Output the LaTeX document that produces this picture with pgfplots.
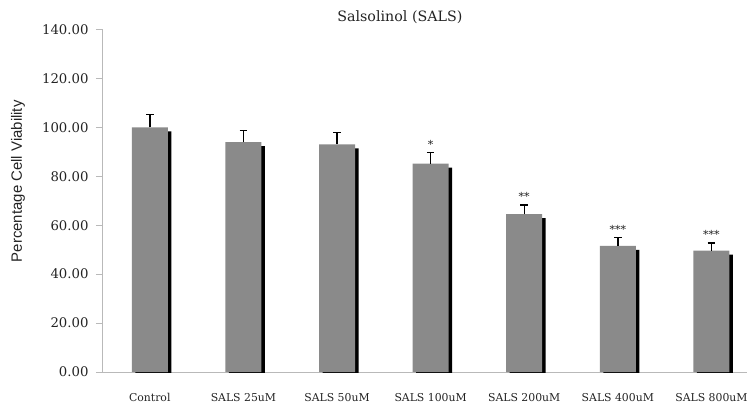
\documentclass[border=0pt]{standalone}
\usepackage{pgfplots}
\pgfplotsset{compat=1.18}
\usepackage{pgfplotstable}
\usepackage{fontspec}
\setmainfont{DejaVu Serif}
\newfontfamily\labelfont{Liberation Sans}
\definecolor{bargray}{RGB}{138,138,138}
\definecolor{axgray}{RGB}{185,185,185}
\definecolor{txt}{RGB}{35,35,35}

\pgfplotstableread{
x val err
0 100.0 5.2
1 94.0 4.8
2 93.0 5.0
3 85.2 4.5
4 64.5 3.8
5 51.6 3.3
6 49.6 3.2
}\datatable

\begin{document}
\begin{tikzpicture}
\useasboundingbox (-103bp,-37bp) rectangle (644bp,372bp);
\begin{axis}[
  scale only axis,
  width=644bp, height=342.5bp,
  xmin=-0.5, xmax=6.38,
  ymin=0, ymax=140,
  axis x line*=bottom,
  axis y line*=left,
  axis line style={axgray, line width=1bp},
  ytick={0,20,...,140},
  /pgf/number format/assume math mode=true,
  yticklabel style={/pgf/number format/.cd, fixed, fixed zerofill, precision=2, /tikz/.cd,
    font=\fontsize{13.3}{15}\selectfont, text=txt, xshift=-4bp},
  tick align=outside,
  major tick length=7bp,
  y tick style={axgray, line width=1bp},
  xtick={0,...,6},
  xticklabels={Control, SALS 25uM, SALS 50uM, SALS 100uM, SALS 200uM, SALS 400uM, SALS 800uM},
  x tick style={draw=none},
  xticklabel style={font=\fontsize{10.9}{13}\selectfont, text=txt, anchor=base, yshift=-22.5bp},
  title={Salsolinol (SALS)},
  title style={font=\fontsize{14.3}{16}\selectfont, text=txt, at={(axis description cs:0.461,1)}, anchor=center, yshift=6.7bp},
  ylabel={Percentage Cell Viability},
  ylabel style={font=\labelfont\fontsize{15}{17}\selectfont, text=txt, at={(axis description cs:-0.132,0.557)}, anchor=center},
]
\addplot[ybar, bar width=36bp, bar shift=0pt, fill=black, draw=none, xshift=3.5bp, yshift=-4bp]
  table[x=x, y=val] \datatable;
\addplot[ybar, bar width=36bp, bar shift=0pt, fill=bargray, draw=none,
  error bars/.cd, y dir=plus, y explicit,
  error bar style={black, line width=1.4bp},
  error mark options={rotate=90, black, mark size=3.8bp, line width=1.4bp}]
  table[x=x, y=val, y error=err] \datatable;
\addplot[draw=none, mark=none, nodes near coords, point meta=explicit symbolic,
  nodes near coords style={font=\fontsize{11}{13}\selectfont, text=txt, anchor=base, yshift=4bp}]
  coordinates {(3,89.7) [*] (4,68.3) [**] (5,54.9) [***] (6,52.8) [***]};
\end{axis}
\end{tikzpicture}
\end{document}
